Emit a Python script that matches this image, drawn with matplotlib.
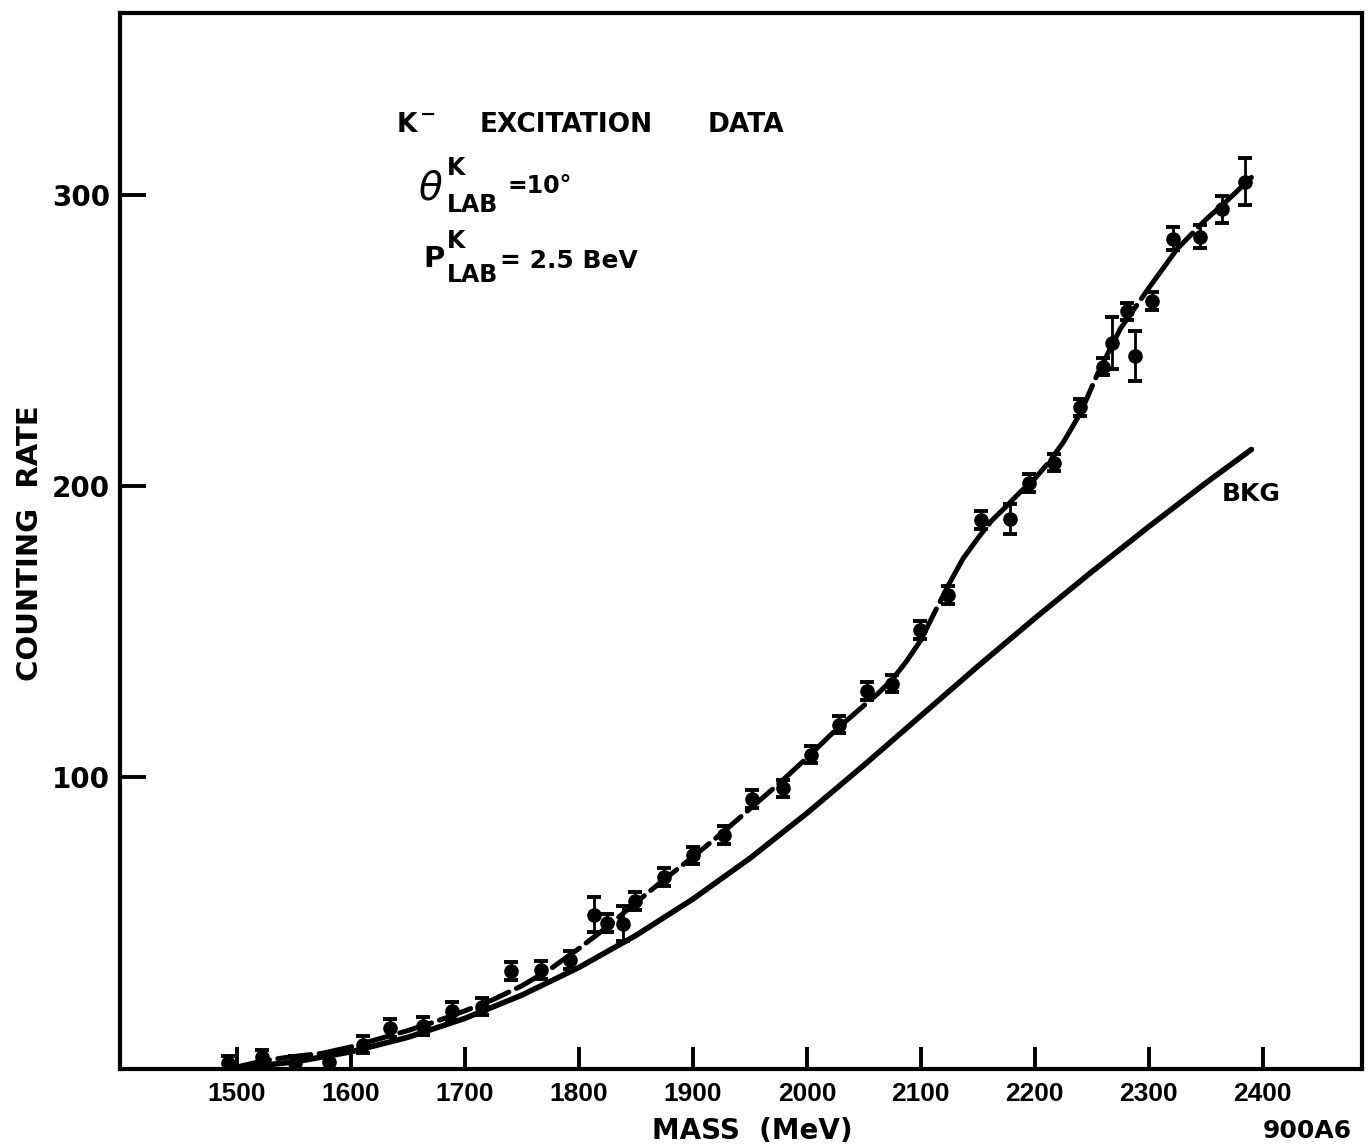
import numpy as np
import matplotlib.pyplot as plt

plt.rcParams['font.family'] = ['DejaVu Sans']
plt.rcParams['font.weight'] = 'bold'
plt.rcParams['lines.scale_dashes'] = False

W, H = 1372, 1146

# measured points: mass (MeV), counting rate, error
mass = [1492, 1522, 1551, 1581, 1611, 1634, 1663, 1689, 1715, 1740, 1767,
        1792, 1813, 1825, 1839, 1849, 1875, 1900, 1927, 1952, 1979, 2004,
        2028, 2053, 2075, 2099, 2124, 2153, 2178, 2195, 2217, 2240, 2260,
        2268, 2281, 2288, 2303, 2321, 2345, 2364, 2384]
rate = [1.7, 3.8, 1.7, 2.0, 8.0, 13.7, 14.4, 19.6, 21.0, 33.3, 33.7,
        37.0, 52.6, 49.8, 49.5, 57.4, 65.6, 73.0, 80.0, 92.4, 96.0, 107.6,
        117.9, 129.5, 132.0, 150.5, 162.5, 188.3, 188.6, 201.0, 208.0, 227.0, 241.0,
        249.0, 260.0, 244.7, 263.6, 285.0, 285.6, 295.0, 304.5]
err = [2.5, 2.5, 2.5, 2.5, 3.0, 3.0, 3.0, 3.0, 3.0, 3.0, 3.0,
       3.0, 6.0, 3.0, 6.0, 3.0, 3.0, 3.0, 3.0, 3.0, 3.0, 3.0,
       3.0, 3.0, 3.0, 3.0, 3.0, 3.0, 5.0, 3.0, 3.0, 3.0, 3.0,
       9.0, 3.0, 8.5, 3.0, 4.0, 4.0, 4.5, 8.0]

# fitted curve
fit_mass = [1500, 1525, 1550, 1575, 1600, 1625, 1650, 1675, 1700, 1725, 1750,
            1775, 1800, 1825, 1850, 1875, 1900, 1925, 1950, 1975, 2000, 2025,
            2050, 2062, 2075, 2087, 2100, 2112, 2125, 2137, 2150, 2162, 2175,
            2187, 2200, 2212, 2225, 2240, 2255, 2275, 2300, 2325, 2350, 2370, 2390]
fit_rate = [0.3, 2.6, 3.9, 5.0, 7.2, 10.0, 12.8, 16.0, 19.6, 23.5, 28.2,
            34.0, 41.0, 48.5, 56.8, 64.8, 72.5, 80.5, 89.0, 97.5, 106.5, 116.0,
            124.5, 128.5, 133.5, 139.5, 147.0, 156.5, 166.5, 175.0, 182.0, 188.0, 193.0,
            197.8, 202.5, 208.0, 215.0, 225.0, 238.5, 254.0, 268.0, 281.5, 291.5, 298.5, 306.0]

# background curve
bkg_mass = [1500, 1550, 1600, 1650, 1700, 1750, 1800, 1850, 1900, 1950, 2000,
            2050, 2100, 2150, 2200, 2250, 2300, 2350, 2390]
bkg_rate = [0.0, 2.0, 5.5, 10.5, 17.0, 25.0, 34.5, 45.5, 58.0, 72.0, 87.5,
            104.0, 121.0, 138.0, 154.5, 170.5, 186.0, 201.0, 212.5]

xticks = [1500, 1600, 1700, 1800, 1900, 2000, 2100, 2200, 2300, 2400]
yticks = [100, 200, 300]


def fpos(x, y):
    return x / W, 1 - y / H


fig = plt.figure(figsize=(W / 100, H / 100), dpi=100)
left, right, top, bottom = 120, 1362, 13, 1069
ax = fig.add_axes([left / W, 1 - bottom / H, (right - left) / W, (bottom - top) / H])
ax.set_xlim(1397.4, 2487)
ax.set_ylim(-0.4, 362.5)

fit_mass = np.array(fit_mass)
fit_rate = np.array(fit_rate)
lo = fit_mass <= 2075
hi = fit_mass >= 2075
ax.plot(fit_mass[lo], fit_rate[lo], color='k', lw=3.6, dashes=(24, 6),
        dash_capstyle='round')
ax.plot(fit_mass[hi], fit_rate[hi], color='k', lw=3.6, dashes=(60, 6),
        dash_capstyle='round')
ax.plot(bkg_mass, bkg_rate, color='k', lw=4.0, solid_capstyle='round')

ax.errorbar(mass, rate, yerr=err, fmt='o', color='k', ms=9.5,
            elinewidth=2.0, capsize=5, capthick=2.8)

for s in ax.spines.values():
    s.set_linewidth(3.0)

ax.set_xticks(xticks)
ax.set_yticks(yticks)
ax.tick_params(axis='x', direction='in', length=16, width=2.8, pad=9.5)
ax.tick_params(axis='y', direction='in', length=19, width=2.8, pad=7, labelsize=20)
for lab in ax.get_xticklabels():
    lab.set_fontfamily('Liberation Sans')
    lab.set_fontsize(19)

# axis labels
fig.text(*fpos(30, 543), 'COUNTING  RATE', rotation=90, ha='center', va='center', fontsize=21)
fig.text(*fpos(752, 1131), 'MASS  (MeV)', ha='center', va='center', fontsize=20)
fig.text(*fpos(1352, 1131), '900A6', ha='right', va='center', fontsize=18)
fig.text(*fpos(1222, 494), 'BKG', ha='left', va='center', fontsize=18)

# heading
fig.text(*fpos(397, 132), 'K', ha='left', va='baseline', fontsize=19)
fig.text(*fpos(420, 114), '\u2212', ha='left', va='center', fontsize=14)
fig.text(*fpos(480, 132), 'EXCITATION', ha='left', va='baseline', fontsize=19)
fig.text(*fpos(708, 132), 'DATA', ha='left', va='baseline', fontsize=19)

# kinematics
fig.text(*fpos(418, 200), '\u03b8', ha='left', va='baseline', fontsize=28,
         style='italic', weight='normal')
fig.text(*fpos(447, 175), 'K', ha='left', va='baseline', fontsize=17)
fig.text(*fpos(447, 212), 'LAB', ha='left', va='baseline', fontsize=17)
fig.text(*fpos(508, 193), '=10\u00b0', ha='left', va='baseline', fontsize=17)

fig.text(*fpos(423, 267), 'P', ha='left', va='baseline', fontsize=21)
fig.text(*fpos(447, 248), 'K', ha='left', va='baseline', fontsize=17)
fig.text(*fpos(447, 282), 'LAB', ha='left', va='baseline', fontsize=17)
fig.text(*fpos(500, 268), '= 2.5 BeV', ha='left', va='baseline', fontsize=18)

fig.savefig('out.png', dpi=100)
